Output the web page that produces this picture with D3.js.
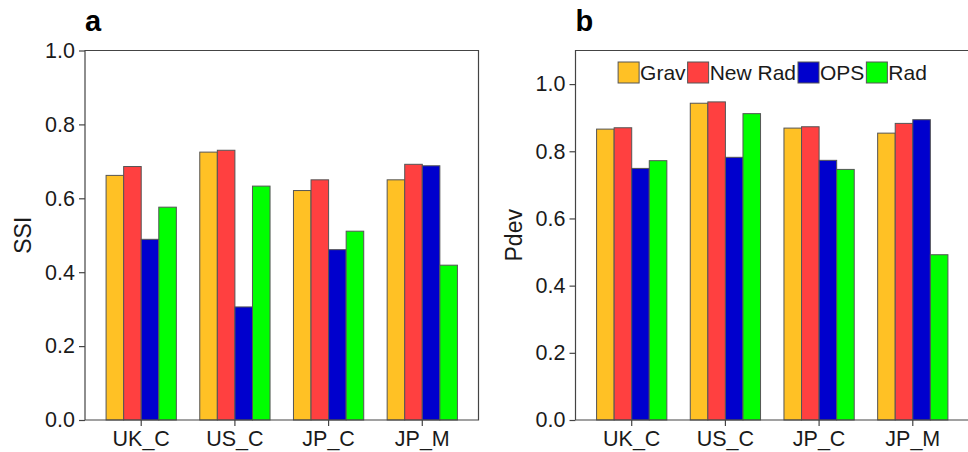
<!DOCTYPE html>
<html>
<head>
<meta charset="utf-8">
<script src="https://cdn.jsdelivr.net/npm/d3@7"></script>
<style>
  html, body { margin: 0; padding: 0; background: #fff; }
  svg { display: block; font-family: "Liberation Sans", Arial, sans-serif; }
</style>
</head>
<body>
<svg id="chart" width="968" height="452"></svg>
<script>
// Categories and series
const sites = ["UK_C", "US_C", "JP_C", "JP_M"];
const models = ["Grav", "New Rad", "OPS", "Rad"];
const modelColors = ["#FFC125", "#FF4040", "#0000CD", "#00FF00"];

// SSI per site, in model order (Grav, New Rad, OPS, Rad)
const ssiGrav   = [0.662, 0.725, 0.621, 0.650];
const ssiNewRad = [0.686, 0.730, 0.650, 0.692];
const ssiOPS    = [0.489, 0.306, 0.461, 0.688];
const ssiRad    = [0.576, 0.633, 0.511, 0.419];

// Pdev per site, in model order
const pdevGrav   = [0.866, 0.943, 0.869, 0.854];
const pdevNewRad = [0.870, 0.947, 0.873, 0.883];
const pdevOPS    = [0.749, 0.782, 0.773, 0.894];
const pdevRad    = [0.772, 0.912, 0.746, 0.492];

const ssiTicks  = [0, 0.2, 0.4, 0.6, 0.8, 1.0];
const pdevTicks = [0, 0.2, 0.4, 0.6, 0.8, 1.0];

const svg = d3.select("#chart");
const axisColor = "#444";
const textColor = "#1a1a1a";

function panel(opts) {
  const { left, right, top, bottom, yMax, ticks, series, yTitle, letter, titleX } = opts;
  const g = svg.append("g");

  const x = d3.scaleBand().domain(sites).range([left, right])
    .paddingInner(0.25).paddingOuter(0.225);
  const xi = d3.scaleBand().domain(models).range([0, x.bandwidth()]).padding(0);
  const y = d3.scaleLinear().domain([0, yMax]).range([bottom, top]);

  // bars
  const rows = [];
  sites.forEach((s, i) => models.forEach((m, j) => rows.push({ s, m, j, v: series[j][i] })));
  g.append("g").selectAll("rect").data(rows).join("rect")
    .attr("x", d => x(d.s) + xi(d.m))
    .attr("y", d => y(d.v))
    .attr("width", xi.bandwidth())
    .attr("height", d => y(0) - y(d.v))
    .attr("fill", d => modelColors[d.j])
    .attr("stroke", "#555")
    .attr("stroke-width", 1);

  // panel frame
  g.append("path")
    .attr("fill", "none").attr("stroke", axisColor).attr("stroke-width", 1.2)
    .attr("d", `M${left},${bottom}V${top}H${right}V${bottom}H${left}`);

  // y axis
  const ya = g.append("g").attr("transform", `translate(${left},0)`)
    .call(d3.axisLeft(y).tickValues(ticks).tickFormat(d3.format(".1f")).tickSize(6).tickPadding(4));
  ya.select(".domain").remove();
  ya.selectAll("line").attr("stroke", axisColor).attr("stroke-width", 1.2);
  ya.selectAll("text").attr("font-size", 21.5).attr("fill", textColor)
    .attr("font-family", "Liberation Sans, Arial, sans-serif");

  // x axis
  const xa = g.append("g").attr("transform", `translate(0,${bottom})`)
    .call(d3.axisBottom(x).tickSize(6).tickPadding(5));
  xa.select(".domain").remove();
  xa.selectAll("line").attr("stroke", axisColor).attr("stroke-width", 1.2);
  xa.selectAll("text").attr("font-size", 21.5).attr("fill", textColor)
    .attr("font-family", "Liberation Sans, Arial, sans-serif");

  // y title
  g.append("text")
    .attr("transform", `translate(${titleX},${(top + bottom) / 2}) rotate(-90)`)
    .attr("text-anchor", "middle").attr("font-size", 23).attr("fill", textColor)
    .text(yTitle);

  // panel letter
  g.append("text").attr("x", left).attr("y", 31)
    .attr("font-size", 29).attr("font-weight", "bold").attr("fill", "#000")
    .text(letter);

  return { g, x, y };
}

panel({
  left: 85, right: 478.5, top: 50.5, bottom: 420, yMax: 1.0, ticks: ssiTicks,
  series: [ssiGrav, ssiNewRad, ssiOPS, ssiRad], yTitle: "SSI", letter: "a",
  titleX: 31
});

panel({
  left: 575.5, right: 969, top: 50.5, bottom: 420, yMax: 1.1, ticks: pdevTicks,
  series: [pdevGrav, pdevNewRad, pdevOPS, pdevRad], yTitle: "Pdev", letter: "b",
  titleX: 522
});

// legend inside panel b
const legend = svg.append("g");
const keySize = 21, gap = 2, textGap = 1;
let cursor = 0;
models.forEach((m, j) => {
  const it = legend.append("g");
  it.append("rect").attr("x", 0).attr("y", 0).attr("width", keySize).attr("height", keySize)
    .attr("fill", modelColors[j]).attr("stroke", "#555").attr("stroke-width", 1);
  const t = it.append("text").attr("x", keySize + textGap).attr("y", keySize / 2 + 7.5)
    .attr("font-size", 21).attr("fill", textColor).text(m);
  const w = keySize + textGap + t.node().getComputedTextLength();
  it.attr("transform", `translate(${cursor},0)`);
  cursor += w + gap;
});
const totalW = cursor - gap;
legend.attr("transform", `translate(${772.5 - totalW / 2},62)`);
</script>
</body>
</html>
